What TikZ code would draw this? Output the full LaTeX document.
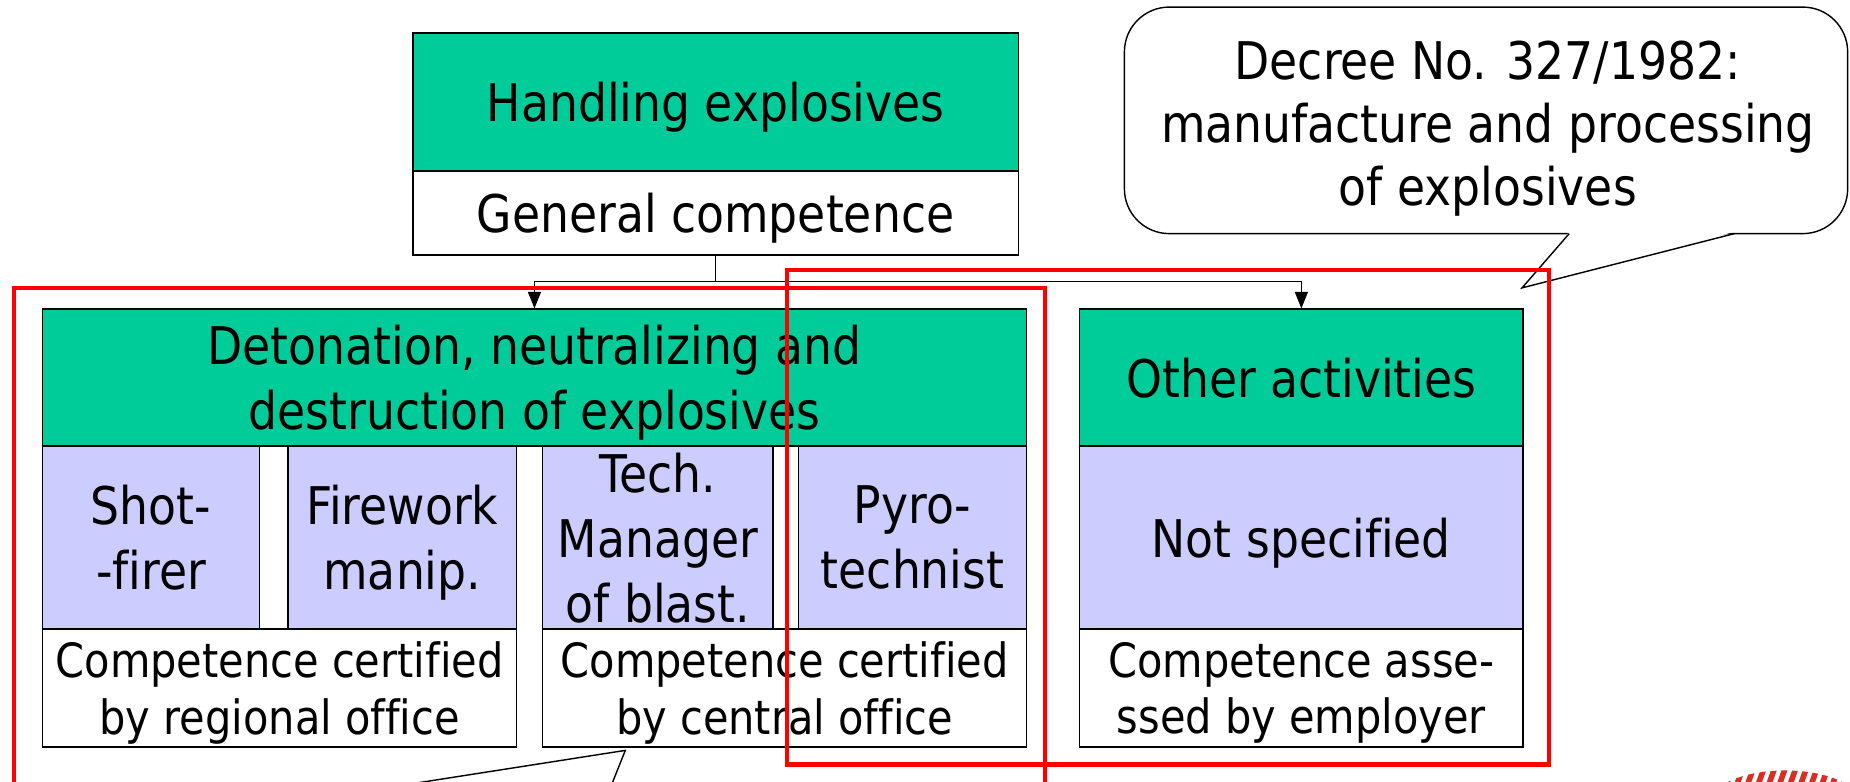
\documentclass[tikz,border=0pt]{standalone}
\usepackage{fontspec}
\setmainfont{DejaVu Sans}[FakeStretch=0.88, Ligatures={NoCommon}]
\usetikzlibrary{arrows.meta}
\definecolor{hgreen}{RGB}{0,204,153}
\definecolor{hlav}{RGB}{204,204,255}
\definecolor{hred}{RGB}{255,0,0}
\definecolor{stripered}{RGB}{220,45,35}
\tikzset{
  bx/.style={draw=black, line width=1.2pt, inner sep=0pt, align=center, text depth=0pt,
    font=\fontsize{44}{55}\selectfont},
  gbox/.style={bx, fill=hgreen},
  pbox/.style={bx, fill=hlav},
  wbox/.style={bx, fill=white},
  wsmall/.style={bx, fill=white, font=\fontsize{40}{48}\selectfont},
  conn/.style={draw=black, line width=1.3pt},
  arr/.style={conn, -{Triangle[length=14pt,width=11pt]}},
  redframe/.style={draw=hred, line width=3.6pt},
  bubble/.style={draw=black, line width=1.2pt, fill=white, rounded corners=38pt,
    inner sep=0pt},
  bubbletext/.style={inner sep=0pt, align=center, font=\fontsize{44}{53}\selectfont},
  tail/.style={draw=black, line width=1.2pt}
}
\begin{document}
\begin{tikzpicture}[x=1pt,y=-1pt]
\clip (0,0) rectangle (1568,662);
\fill[white] (0,0) rectangle (1568,662);
% top box
\node[gbox, minimum width=513pt, minimum height=117pt] (hand) at (606.5,86.5) {Handling explosives};
\node[wbox, minimum width=513pt, minimum height=71pt] (gen) at (606.5,180.5) {General competence};
% detonation group
\node[gbox, minimum width=834pt, minimum height=116pt] (det) at (453,320) {Detonation, neutralizing and\\destruction of explosives};
\node[pbox, minimum width=184pt, minimum height=155pt] (shot) at (128,455.5) {Shot-\\-firer};
\node[pbox, minimum width=194pt, minimum height=155pt] (fire) at (341,455.5) {Firework\\manip.};
\node[pbox, minimum width=195pt, minimum height=155pt] (tech) at (557.5,455.5) {Tech.\\Manager\\of blast.};
\node[pbox, minimum width=193pt, minimum height=155pt] (pyro) at (773.5,455.5) {Pyro-\\technist};
\node[wsmall, minimum width=402pt, minimum height=100pt] (reg) at (237,583) {Competence certified\\by regional office};
\node[wsmall, minimum width=410pt, minimum height=100pt] (cen) at (665,583) {Competence certified\\by central office};
% other activities
\node[gbox, minimum width=376pt, minimum height=116pt] (oth) at (1103,320) {Other activities};
\node[pbox, minimum width=376pt, minimum height=155pt] (ns) at (1103,455.5) {Not specified};
\node[wsmall, minimum width=376pt, minimum height=100pt] (emp) at (1103,583) {Competence asse-\\ssed by employer};
% connectors
\draw[conn] (gen.south) -- ++(0,22) coordinate (j);
\draw[arr] (j) -| (det.north);
\draw[arr] (j) -| (oth.north);
% callout top right
\node[bubble, minimum width=613pt, minimum height=192pt] (dec) at (1259.5,102) {};
\node[bubbletext] (dectext) at (1261,109) {Decree No. 327/1982:\\manufacture and processing\\of explosives};
\coordinate (tipA) at (1290,244);
\coordinate (baseA1) at (1330,198);
\coordinate (baseA2) at (1470,198);
\fill[white] (1330,196.5) -- (tipA) -- (1470,196.5) -- cycle;
\draw[tail] (baseA1) -- (tipA) -- (baseA2);
% callout tail bottom
\coordinate (tipB) at (530,636);
\coordinate (baseB1) at (338,666);
\coordinate (baseB2) at (518,666);
\draw[tail] (baseB1) -- (tipB) -- (baseB2);
% red frames
\draw[redframe] (12,244) rectangle (886,720);
\draw[redframe] (667,229) rectangle (1313,648);
% striped logo fragment
\begin{scope}
\clip (1513,680) ellipse [x radius=63, y radius=27];
\foreach \i in {0,...,18} \fill[stripered] ({1430+\i*9},700) -- ++(5,0) -- ++(18,-50) -- ++(-5,0) -- cycle;
\end{scope}
\end{tikzpicture}
\end{document}
